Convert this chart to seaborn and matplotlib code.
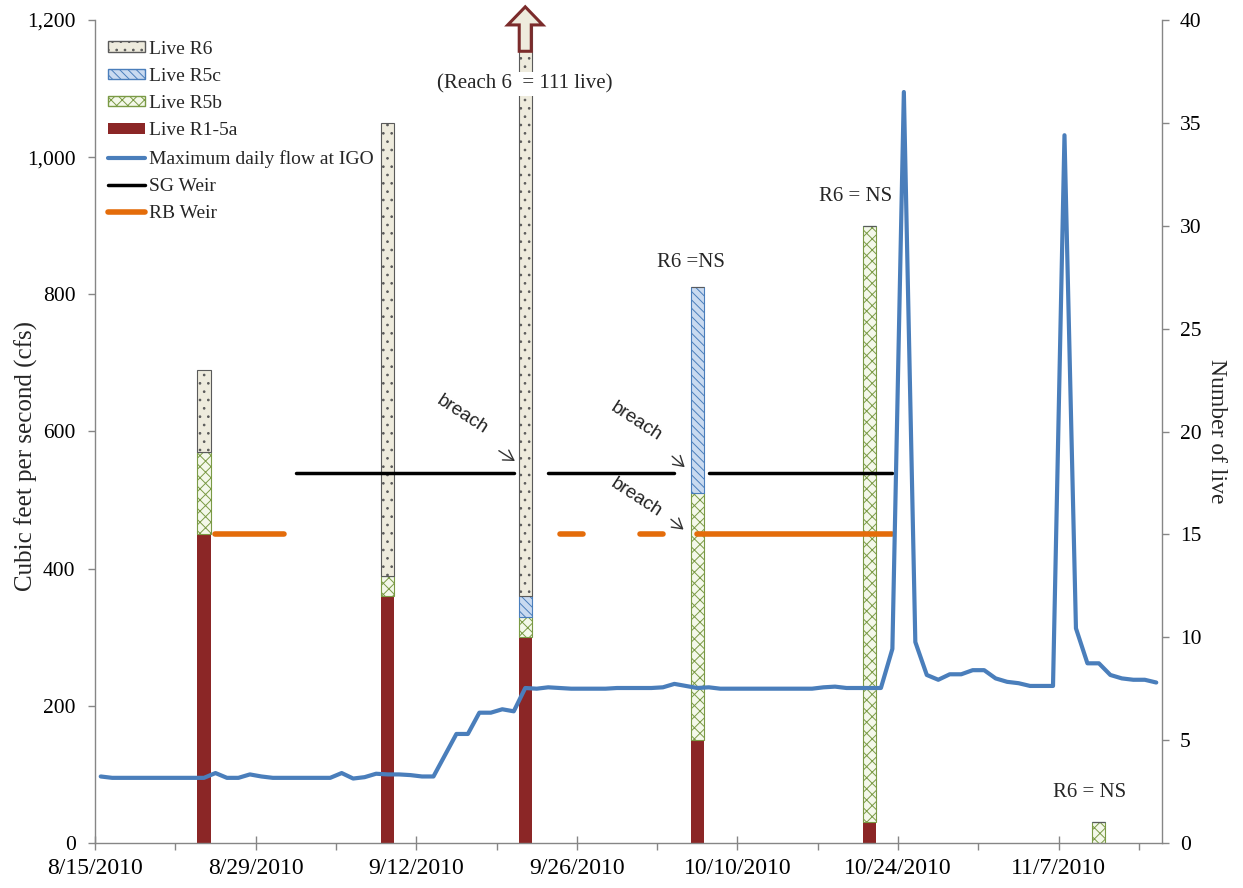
import numpy as np
import pandas as pd
import matplotlib
matplotlib.use("Agg")
import matplotlib.pyplot as plt
import matplotlib.dates as mdates
import matplotlib.patches as mpatches
import matplotlib.lines as mlines
import matplotlib.transforms as mtransforms
from matplotlib.ticker import FuncFormatter, FixedLocator
import seaborn as sns

# ---------------- data ----------------
start_date = "2010-08-15"
flow_cfs = [97, 95, 95, 95, 95, 95, 95, 95, 95, 95,
            102, 95, 95, 100, 97, 95, 95, 95, 95, 95,
            95, 102, 94, 96, 101, 100, 100, 99, 97, 97,
            128, 159, 159, 190, 190, 195, 192, 226, 225, 227,
            226, 225, 225, 225, 225, 226, 226, 226, 226, 227,
            232, 229, 226, 227, 225, 225, 225, 225, 225, 225,
            225, 225, 225, 227, 228, 226, 226, 226, 226, 283,
            1095, 293, 245, 238, 246, 246, 252, 252, 240, 235,
            233, 229, 229, 229, 1032, 313, 262, 262, 245, 240,
            238, 238, 234]

bar_dates = ["2010-08-24", "2010-09-09", "2010-09-21", "2010-10-06", "2010-10-21", "2010-11-10"]
live_r1_5a = [15, 12, 10, 5, 1, 0]
live_r5b = [4, 1, 1, 12, 29, 1]
live_r5c = [0, 0, 1, 10, 0, 0]
live_r6 = [4, 22, 111, 0, 0, 0]

sg_weir_start = ["2010-09-01", "2010-09-23", "2010-10-07"]
sg_weir_end = ["2010-09-20", "2010-10-04", "2010-10-23"]
sg_weir_level = 540
rb_weir_start = ["2010-08-25", "2010-09-24", "2010-10-01", "2010-10-06"]
rb_weir_end = ["2010-08-31", "2010-09-26", "2010-10-03", "2010-10-23"]
rb_weir_level = 450

x_tick_labels = ["8/15/2010", "8/29/2010", "9/12/2010", "9/26/2010",
                 "10/10/2010", "10/24/2010", "11/7/2010"]
left_ticks = [0, 200, 400, 600, 800, 1000, 1200]
right_ticks = [0, 5, 10, 15, 20, 25, 30, 35, 40]

# ---------------- style ----------------
sns.set_theme(style="white")
plt.rcParams["font.family"] = ["Liberation Serif", "DejaVu Serif"]
plt.rcParams["hatch.linewidth"] = 0.7

GRAY = "#868686"
C_R1 = "#8B2626"
C_R5B_F, C_R5B_E = "#F4F8EA", "#7A9A45"
C_R5C_F, C_R5C_E = "#C9DAF0", "#4A7EBB"
C_R6_F, C_R6_E = "#EEEBDD", "#5A5A5A"
C_FLOW = "#4A7EBB"
C_SG = "#000000"
C_RB = "#E46C0A"

half_day = pd.Timedelta(hours=12)
t0 = pd.Timestamp(start_date)
t0n = mdates.date2num(t0)

fig = plt.figure(figsize=(12.43, 8.88), dpi=100)
ax = fig.add_axes([95 / 1243, 45 / 888, 1067 / 1243, 823 / 888])
ax2 = ax.twinx()
ax.set_zorder(ax2.get_zorder() + 1)
ax.patch.set_visible(False)

# ---------------- bars (number of live, right axis) ----------------
bx = mdates.date2num(pd.to_datetime(bar_dates) + half_day)
bw = 1.15
b1 = np.array(live_r1_5a, float)
b2 = b1 + np.array(live_r5b, float)
b3 = b2 + np.array(live_r5c, float)
ax2.bar(bx, live_r1_5a, width=bw, color=C_R1, edgecolor="none", zorder=2)
ax2.bar(bx, live_r5b, width=bw, bottom=b1, facecolor=C_R5B_F, edgecolor=C_R5B_E,
        hatch="xxx", linewidth=0.8, zorder=2)
ax2.bar(bx, live_r5c, width=bw, bottom=b2, facecolor=C_R5C_F, edgecolor=C_R5C_E,
        hatch="\\\\\\\\", linewidth=0.8, zorder=2)
ax2.bar(bx, live_r6, width=bw, bottom=b3, facecolor=C_R6_F, edgecolor=C_R6_E,
        hatch="..", linewidth=0.8, zorder=2)
ax2.set_ylim(0, 40)

# arrow showing that bar 3 goes off scale
trans = mtransforms.blended_transform_factory(ax2.transData, ax2.transAxes)
big = int(np.argmax(live_r6))
arr = mpatches.FancyArrow(bx[big], 0.962, 0, 0.054, width=1.05, head_width=3.05,
                          head_length=0.022, length_includes_head=True,
                          transform=trans, facecolor=C_R6_F, edgecolor="#7B2B2B",
                          linewidth=2.2, clip_on=False, zorder=10)
ax2.add_patch(arr)
ax2.text(bx[big], 0.922, "(Reach 6  = 111 live)", transform=trans, ha="center",
         va="center", fontsize=15, zorder=11,
         bbox=dict(facecolor="white", edgecolor="none", pad=1.5))

ax2.text(t0n + 51.9, 28.2, "R6 =NS", ha="center", va="center", fontsize=15)
ax2.text(t0n + 66.3, 31.4, "R6 = NS", ha="center", va="center", fontsize=15)
ax2.text(t0n + 86.7, 2.45, "R6 = NS", ha="center", va="center", fontsize=15)

# ---------------- lines (cfs, left axis) ----------------
flow_dates = pd.date_range(start_date, periods=len(flow_cfs), freq="D") + half_day
sns.lineplot(x=flow_dates, y=flow_cfs, ax=ax, color=C_FLOW, linewidth=3.0,
             legend=False, zorder=5)

def weir_frame(starts, ends, level):
    rows = []
    for i, (s, e) in enumerate(zip(starts, ends)):
        rows.append({"seg": i, "x": pd.Timestamp(s) + half_day, "level": level})
        rows.append({"seg": i, "x": pd.Timestamp(e) + half_day, "level": level})
    return pd.DataFrame(rows)

sg_df = weir_frame(sg_weir_start, sg_weir_end, sg_weir_level)
rb_df = weir_frame(rb_weir_start, rb_weir_end, rb_weir_level)
sns.lineplot(data=sg_df, x="x", y="level", units="seg", estimator=None, ax=ax,
             color=C_SG, linewidth=2.5, legend=False, zorder=4)
sns.lineplot(data=rb_df, x="x", y="level", units="seg", estimator=None, ax=ax,
             color=C_RB, linewidth=4.0, legend=False, zorder=4,
             solid_capstyle="round")

# breach annotations
breach_font = dict(family=["Liberation Sans", "DejaVu Sans"], fontsize=13.5,
                   color="#222222", rotation=-33, ha="center", va="center")
ax.text(t0n + 32.0, 625, "breach", **breach_font)
ax.text(t0n + 47.2, 614, "breach", **breach_font)
ax.text(t0n + 47.2, 503, "breach", **breach_font)
arrow_kw = dict(arrowstyle="->,head_length=0.5,head_width=0.3", color="#333333",
                lw=1.0, mutation_scale=14, shrinkA=0, shrinkB=0)
ax.annotate("", xy=(t0n + 36.6, 557), xytext=(t0n + 35.2, 572), arrowprops=arrow_kw)
ax.annotate("", xy=(t0n + 51.4, 548), xytext=(t0n + 50.3, 564), arrowprops=arrow_kw)
ax.annotate("", xy=(t0n + 51.3, 457), xytext=(t0n + 50.2, 472), arrowprops=arrow_kw)

# ---------------- axes ----------------
ax.set_ylim(0, 1200)
ax.set_xlim(t0n, t0n + 93)
major = mdates.date2num(pd.to_datetime(x_tick_labels, format="%m/%d/%Y"))
ax.xaxis.set_major_locator(FixedLocator(major))
ax.set_xticklabels(x_tick_labels)
ax.xaxis.set_minor_locator(FixedLocator(major + 7))
ax.set_yticks(left_ticks)
ax.yaxis.set_major_formatter(FuncFormatter(lambda v, p: f"{int(v):,}"))
ax2.set_yticks(right_ticks)
ax.set_xlabel("")

for a in (ax, ax2):
    a.spines["top"].set_visible(False)
    for s in a.spines.values():
        s.set_color(GRAY)
        s.set_linewidth(1.0)
ax.spines["right"].set_visible(False)
ax2.spines["left"].set_visible(False)
ax2.spines["bottom"].set_visible(False)

ax.tick_params(axis="y", which="major", left=True, direction="out", length=5,
               width=1, color=GRAY, labelsize=15.5, pad=9, labelcolor="black")
ax.tick_params(axis="x", which="major", bottom=True, direction="inout", length=10,
               width=1, color=GRAY, labelsize=17, pad=6, labelcolor="black")
ax.tick_params(axis="x", which="minor", bottom=True, direction="out", length=5,
               width=1, color=GRAY)
ax2.tick_params(axis="y", which="major", right=True, direction="out", length=5,
                width=1, color=GRAY, labelsize=15.5, pad=8, labelcolor="black")

ax.set_ylabel("Cubic feet per second (cfs)", fontsize=18)
ax.yaxis.set_label_coords(-0.053, 0.47)
ax2.set_ylabel("Number of live", fontsize=17, rotation=270, va="bottom")
ax2.yaxis.set_label_coords(1.041, 0.5)

# ---------------- legend ----------------
handles = [
    mpatches.Patch(facecolor=C_R6_F, edgecolor=C_R6_E, hatch="..", label="Live R6"),
    mpatches.Patch(facecolor=C_R5C_F, edgecolor=C_R5C_E, hatch="\\\\\\\\", label="Live R5c"),
    mpatches.Patch(facecolor=C_R5B_F, edgecolor=C_R5B_E, hatch="xxx", label="Live R5b"),
    mpatches.Patch(facecolor=C_R1, edgecolor="none", label="Live R1-5a"),
    mlines.Line2D([], [], color=C_FLOW, lw=3.0, label="Maximum daily flow at IGO"),
    mlines.Line2D([], [], color=C_SG, lw=2.5, label="SG Weir"),
    mlines.Line2D([], [], color=C_RB, lw=4.0, solid_capstyle="round", label="RB Weir"),
]
leg = ax.legend(handles=handles, loc="upper left", bbox_to_anchor=(0.012, 0.975),
                frameon=False, fontsize=14, handlelength=1.9, handleheight=0.45,
                handletextpad=0.2, labelspacing=0.53, borderpad=0, borderaxespad=0)
leg.set_zorder(20)

fig.savefig("out.png", dpi=100, facecolor="white")
